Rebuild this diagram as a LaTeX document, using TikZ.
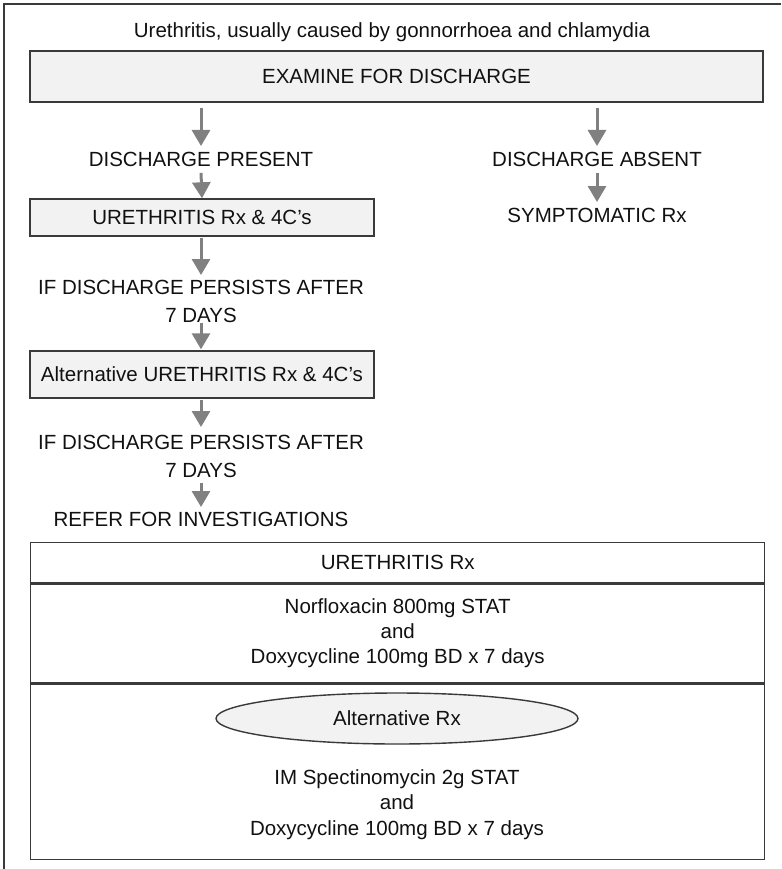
\documentclass[tikz,border=0pt]{standalone}
\usepackage{fontspec}
\setmainfont{Liberation Sans}
\usetikzlibrary{arrows.meta,shapes.geometric}
\definecolor{boxfill}{HTML}{F2F2F2}
\definecolor{edge}{HTML}{3A3A3A}
\definecolor{arrowgray}{HTML}{808080}
\definecolor{ink}{HTML}{111111}
\tikzset{
  txt/.style={inner sep=0pt, anchor=north, text=ink, font=\fontsize{20.5}{27.5}\selectfont, align=center},
  tabtxt/.style={txt, font=\fontsize{20.5}{25.5}\selectfont},
  greybox/.style={draw=edge, line width=1.4pt, fill=boxfill, inner sep=0pt, text=ink, font=\fontsize{20.5}{25}\selectfont},
  rowbox/.style={draw=edge, line width=1.4pt, fill=white, inner sep=0pt, minimum width=734pt, text=ink, font=\fontsize{20.5}{25}\selectfont, align=center},
  arr/.style={draw=arrowgray, line width=3pt, -{Triangle[width=18pt,length=16pt]}},
  frame/.style={draw=edge, line width=1.6pt}
}
\begin{document}
\begin{tikzpicture}[x=1pt,y=-1pt]
\useasboundingbox (0,0) rectangle (781,869);
% outer frame (top and left only)
\coordinate (fl) at (4,869);
\coordinate (fc) at (4,4);
\coordinate (fr) at (781,4);
\draw[frame] (fl) -- (fc) -- (fr);

\node[txt] (title) at (392,22) {Urethritis, usually caused by gonnorrhoea and chlamydia};
\node[greybox, minimum width=733pt, minimum height=51pt] (examine) at (396.5,76.5) {EXAMINE FOR DISCHARGE};

% left column
\node[txt] (dp) at (201,152) {DISCHARGE PRESENT};
\node[greybox, minimum width=344pt, minimum height=37pt] (ur) at (202,217.5) {URETHRITIS Rx \& 4C’s};
\node[txt] (if1) at (201,280) {IF DISCHARGE PERSISTS AFTER\\7 DAYS};
\node[greybox, minimum width=344pt, minimum height=47pt] (alt) at (202,374.5) {Alternative URETHRITIS Rx \& 4C’s};
\node[txt] (if2) at (201,435) {IF DISCHARGE PERSISTS AFTER\\7 DAYS};
\node[txt] (refer) at (201,512) {REFER FOR INVESTIGATIONS};

% right column
\node[txt] (da) at (597,152) {DISCHARGE ABSENT};
\node[txt] (sym) at (597,208) {SYMPTOMATIC Rx};

% arrows
\draw[arr] ([yshift=-5pt]examine.south -| dp.north) -- ([yshift=6pt]dp.north);
\draw[arr] ([yshift=-6pt]dp.south) -- (ur.north);
\draw[arr] ([yshift=-1pt]ur.south -| if1.north) -- ([yshift=5pt]if1.north);
\draw[arr] ([yshift=-1pt]if1.south) -- ([yshift=1pt]alt.north -| if1.south);
\draw[arr] ([yshift=-1pt]alt.south -| if2.north) -- ([yshift=8pt]if2.north);
\draw[arr] ([yshift=-6pt]if2.south) -- ([yshift=5pt]refer.north);
\draw[arr] ([yshift=-5pt]examine.south -| da.north) -- ([yshift=6pt]da.north);
\draw[arr] ([yshift=-6pt]da.south) -- ([yshift=6pt]sym.north);

% treatment table
\node[rowbox, minimum height=40pt, anchor=north west] (r1) at (30,542) {URETHRITIS Rx};
\node[rowbox, minimum height=99pt, anchor=north west, font=\fontsize{20.5}{25}\selectfont] (r2) at (r1.south west) {Norfloxacin 800mg STAT\\and\\Doxycycline 100mg BD x 7 days};
\node[rowbox, minimum height=175pt, anchor=north west] (r3) at (r2.south west) {};
\node[ellipse, draw=edge, line width=1.4pt, fill=boxfill, minimum width=362pt, minimum height=51pt, inner sep=0pt, text=ink, font=\fontsize{20.5}{25}\selectfont] (altrx) at (397,718.5) {Alternative Rx};
\node[tabtxt] (spec) at (397,769) {IM Spectinomycin 2g STAT\\and\\Doxycycline 100mg BD x 7 days};
\end{tikzpicture}
\end{document}
